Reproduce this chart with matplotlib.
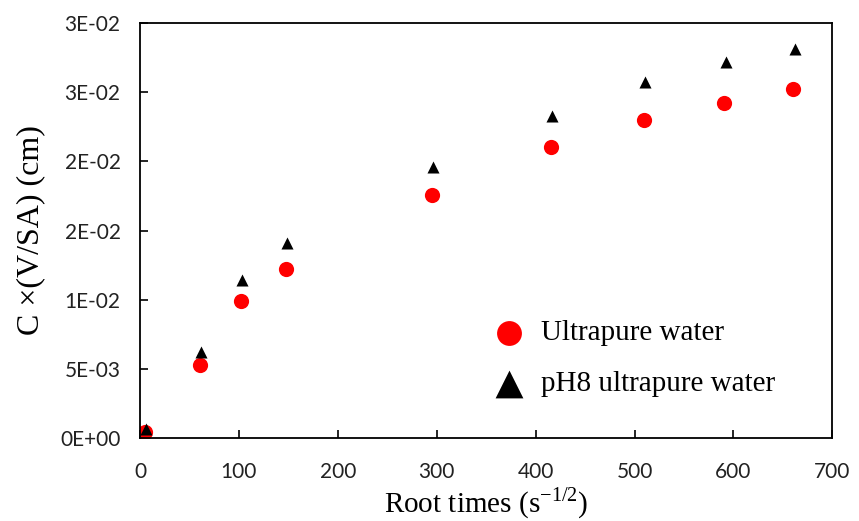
# Leaching curve: C x (V/SA) against root time, two water types

import matplotlib
matplotlib.use('Agg')
import matplotlib.pyplot as plt

# Values
root_time = [5, 61, 102, 148, 295, 416, 510, 590, 660]
ultrapure = [0.00043, 0.0053, 0.0099, 0.01225, 0.0176, 0.0210, 0.0230, 0.0242, 0.0252]
ph8_time = [6, 62, 103, 149, 296, 417, 511, 592, 662]
ph8_ultrapure = [0.00065, 0.0062, 0.01145, 0.0141, 0.0196, 0.0233, 0.0257, 0.0272, 0.0281]

y_ticks = [0, 0.005, 0.01, 0.015, 0.02, 0.025, 0.03]
y_tick_labels = ['0E+00', '5E-03', '1E-02', '2E-02', '2E-02', '3E-02', '3E-02']
x_ticks = [0, 100, 200, 300, 400, 500, 600, 700]

fig = plt.figure(figsize=(8.59, 5.21), dpi=100)
ax = fig.add_axes([0.163, 0.159, 0.806, 0.797])

ax.scatter(root_time, ultrapure, s=120, c='#ff0000', marker='o',
           linewidths=0, label='Ultrapure water', zorder=2)
ax.scatter(ph8_time, ph8_ultrapure, s=75, c='black', marker='^',
           linewidths=0, label='pH8 ultrapure water', zorder=3)

ax.set_xlim(0, 700)
ax.set_ylim(0, 0.03)
ax.set_xticks(x_ticks)
ax.set_yticks(y_ticks)
ax.set_yticklabels(y_tick_labels)
ax.tick_params(direction='in', length=6, width=1.2, labelsize=15,
               labelcolor='#222222', top=False, right=False)
ax.tick_params(axis='x', pad=17)
ax.tick_params(axis='y', pad=14)
for lab in ax.get_xticklabels() + ax.get_yticklabels():
    lab.set_fontfamily('Lato')
for sp in ax.spines.values():
    sp.set_linewidth(1.3)

ax.set_xlabel(r'Root times (s$^{\mathregular{-1/2}}$)', family='Liberation Serif',
              fontsize=21, labelpad=3)
ax.set_ylabel('C \u00d7(V/SA) (cm)', family='Liberation Serif', fontsize=23,
              labelpad=11)

leg = ax.legend(loc='upper left', bbox_to_anchor=(0.47, 0.32), frameon=False,
                prop={'family': 'Liberation Serif', 'size': 21},
                handletextpad=0.1, labelspacing=0.85, borderpad=0)
leg.legend_handles[0].set_sizes([320])
leg.legend_handles[1].set_sizes([400])

fig.savefig('out.png', dpi=100)
